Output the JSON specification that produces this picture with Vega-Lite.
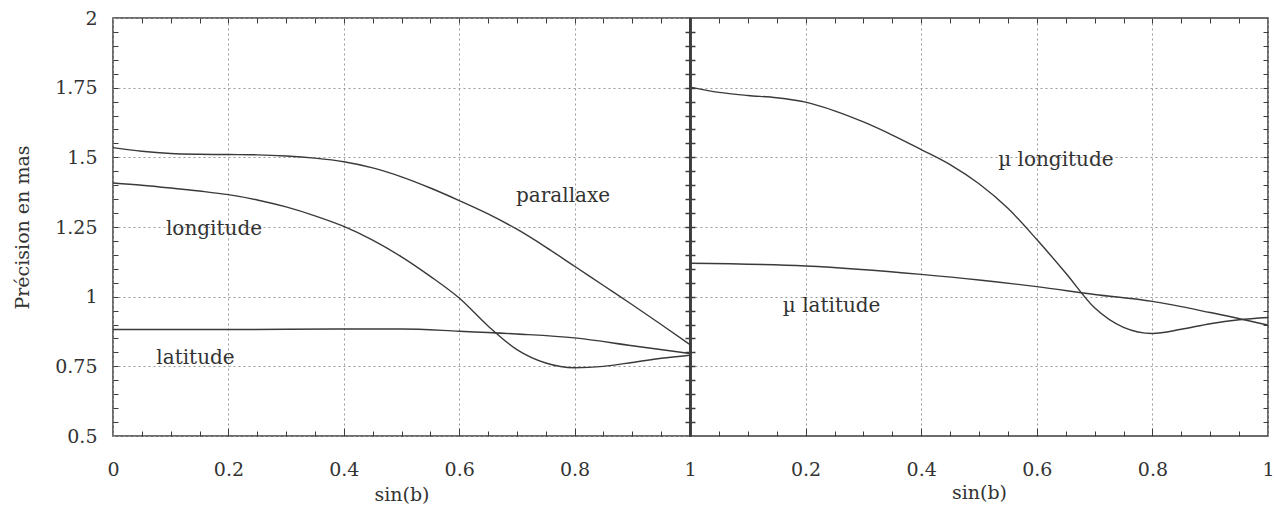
{
  "$schema": "https://vega.github.io/schema/vega-lite/v6.json",
  "background": "white",
  "padding": {"left": 12, "top": 8, "right": 4, "bottom": 2},
  "spacing": 0,
  "bounds": "flush",
  "config": {
    "font": "DejaVu Serif",
    "view": {"stroke": "#3c3c3c", "strokeWidth": 1.5},
    "axis": {
      "labelFont": "DejaVu Serif", "titleFont": "DejaVu Serif",
      "labelFontSize": 19, "titleFontSize": 19, "titleFontWeight": "normal",
      "labelColor": "#333333", "titleColor": "#333333",
      "gridColor": "#9a9a9a", "gridDash": [2, 3], "gridWidth": 1,
      "tickColor": "#3c3c3c", "domainColor": "#3c3c3c", "labelFlush": false
    }
  },
  "datasets": {
    "left": [
      {"s": "parallaxe", "x": 0, "y": 1.535}, {"s": "parallaxe", "x": 0.05, "y": 1.522}, {"s": "parallaxe", "x": 0.1, "y": 1.514},
      {"s": "parallaxe", "x": 0.15, "y": 1.511}, {"s": "parallaxe", "x": 0.2, "y": 1.51}, {"s": "parallaxe", "x": 0.25, "y": 1.509},
      {"s": "parallaxe", "x": 0.3, "y": 1.505}, {"s": "parallaxe", "x": 0.35, "y": 1.497}, {"s": "parallaxe", "x": 0.4, "y": 1.484},
      {"s": "parallaxe", "x": 0.45, "y": 1.462}, {"s": "parallaxe", "x": 0.5, "y": 1.43}, {"s": "parallaxe", "x": 0.55, "y": 1.39},
      {"s": "parallaxe", "x": 0.6, "y": 1.345}, {"s": "parallaxe", "x": 0.65, "y": 1.297}, {"s": "parallaxe", "x": 0.7, "y": 1.242},
      {"s": "parallaxe", "x": 0.75, "y": 1.178}, {"s": "parallaxe", "x": 0.8, "y": 1.109}, {"s": "parallaxe", "x": 0.85, "y": 1.04},
      {"s": "parallaxe", "x": 0.9, "y": 0.971}, {"s": "parallaxe", "x": 0.95, "y": 0.9}, {"s": "parallaxe", "x": 1, "y": 0.828},
      {"s": "longitude", "x": 0, "y": 1.408}, {"s": "longitude", "x": 0.05, "y": 1.4}, {"s": "longitude", "x": 0.1, "y": 1.39},
      {"s": "longitude", "x": 0.15, "y": 1.379}, {"s": "longitude", "x": 0.2, "y": 1.366}, {"s": "longitude", "x": 0.25, "y": 1.347},
      {"s": "longitude", "x": 0.3, "y": 1.322}, {"s": "longitude", "x": 0.35, "y": 1.29}, {"s": "longitude", "x": 0.4, "y": 1.252},
      {"s": "longitude", "x": 0.45, "y": 1.203}, {"s": "longitude", "x": 0.5, "y": 1.143}, {"s": "longitude", "x": 0.55, "y": 1.073},
      {"s": "longitude", "x": 0.6, "y": 0.995}, {"s": "longitude", "x": 0.65, "y": 0.895}, {"s": "longitude", "x": 0.7, "y": 0.81},
      {"s": "longitude", "x": 0.75, "y": 0.762}, {"s": "longitude", "x": 0.8, "y": 0.745}, {"s": "longitude", "x": 0.85, "y": 0.75},
      {"s": "longitude", "x": 0.9, "y": 0.764}, {"s": "longitude", "x": 0.95, "y": 0.779}, {"s": "longitude", "x": 1, "y": 0.79},
      {"s": "latitude", "x": 0, "y": 0.882}, {"s": "latitude", "x": 0.2, "y": 0.882}, {"s": "latitude", "x": 0.4, "y": 0.884},
      {"s": "latitude", "x": 0.5, "y": 0.884}, {"s": "latitude", "x": 0.6, "y": 0.876}, {"s": "latitude", "x": 0.7, "y": 0.866},
      {"s": "latitude", "x": 0.8, "y": 0.852}, {"s": "latitude", "x": 0.9, "y": 0.824}, {"s": "latitude", "x": 1, "y": 0.796}
    ],
    "right": [
      {"s": "mu longitude", "x": 0, "y": 1.752}, {"s": "mu longitude", "x": 0.05, "y": 1.733}, {"s": "mu longitude", "x": 0.1, "y": 1.722},
      {"s": "mu longitude", "x": 0.15, "y": 1.714}, {"s": "mu longitude", "x": 0.2, "y": 1.698}, {"s": "mu longitude", "x": 0.25, "y": 1.667},
      {"s": "mu longitude", "x": 0.3, "y": 1.627}, {"s": "mu longitude", "x": 0.35, "y": 1.58}, {"s": "mu longitude", "x": 0.4, "y": 1.528},
      {"s": "mu longitude", "x": 0.45, "y": 1.474}, {"s": "mu longitude", "x": 0.5, "y": 1.405}, {"s": "mu longitude", "x": 0.55, "y": 1.317},
      {"s": "mu longitude", "x": 0.6, "y": 1.205}, {"s": "mu longitude", "x": 0.65, "y": 1.085}, {"s": "mu longitude", "x": 0.7, "y": 0.96},
      {"s": "mu longitude", "x": 0.75, "y": 0.89}, {"s": "mu longitude", "x": 0.8, "y": 0.868}, {"s": "mu longitude", "x": 0.85, "y": 0.883},
      {"s": "mu longitude", "x": 0.9, "y": 0.903}, {"s": "mu longitude", "x": 0.95, "y": 0.917}, {"s": "mu longitude", "x": 1, "y": 0.925},
      {"s": "mu latitude", "x": 0, "y": 1.12}, {"s": "mu latitude", "x": 0.2, "y": 1.11}, {"s": "mu latitude", "x": 0.4, "y": 1.08},
      {"s": "mu latitude", "x": 0.5, "y": 1.06}, {"s": "mu latitude", "x": 0.6, "y": 1.036}, {"s": "mu latitude", "x": 0.7, "y": 1.008},
      {"s": "mu latitude", "x": 0.8, "y": 0.983}, {"s": "mu latitude", "x": 0.9, "y": 0.943}, {"s": "mu latitude", "x": 1, "y": 0.898}
    ],
    "labL": [
      {"label": "longitude", "x": 0.175, "y": 1.244},
      {"label": "latitude", "x": 0.143, "y": 0.781},
      {"label": "parallaxe", "x": 0.78, "y": 1.362}
    ],
    "labR": [
      {"label": "µ   longitude", "x": 0.633, "y": 1.49},
      {"label": "µ   latitude", "x": 0.245, "y": 0.965}
    ]
  },
  "hconcat": [
    {
      "width": 577, "height": 418,
      "resolve": {"axis": {"x": "independent", "y": "independent"}},
      "layer": [
        {
          "data": {"name": "left"},
          "mark": {"type": "line", "interpolate": "monotone", "strokeWidth": 1.4, "color": "#3a3a3a"},
          "encoding": {
            "x": {"field": "x", "type": "quantitative", "scale": {"domain": [0, 1], "nice": false},
                  "axis": {"orient": "bottom", "values": [0, 0.2, 0.4, 0.6, 0.8, 1], "labelExpr": "'' + datum.value", "grid": true, "ticks": false, "domain": false, "labelPadding": 24, "title": "sin(b)", "titlePadding": 6}},
            "y": {"field": "y", "type": "quantitative", "scale": {"domain": [0.5, 2], "nice": false, "zero": false},
                  "axis": {"orient": "left", "values": [0.5, 0.75, 1, 1.25, 1.5, 1.75, 2], "labelExpr": "'' + datum.value", "grid": true, "ticks": false, "domain": false, "labelPadding": 16, "title": "Précision en mas", "titlePadding": 22}},
            "detail": {"field": "s"}
          }
        },
        {
          "data": {"name": "left"},
          "mark": {"type": "line", "opacity": 0},
          "encoding": {
            "x": {"field": "x", "type": "quantitative", "scale": {"domain": [0, 1], "nice": false},
                  "axis": {"orient": "bottom", "values": [0.2, 0.4, 0.6, 0.8], "grid": false, "labels": false, "domain": false, "tickSize": -8, "title": null}},
            "y": {"field": "y", "type": "quantitative", "scale": {"domain": [0.5, 2], "nice": false, "zero": false},
                  "axis": {"orient": "left", "values": [0.55, 0.6, 0.65, 0.7, 0.75, 0.8, 0.85, 0.9, 0.95, 1, 1.05, 1.1, 1.15, 1.2, 1.25, 1.3, 1.35, 1.4, 1.45, 1.5, 1.55, 1.6, 1.65, 1.7, 1.75, 1.8, 1.85, 1.9, 1.95], "grid": false, "labels": false, "domain": false, "tickSize": -5, "title": null}},
            "detail": {"field": "s"}
          }
        },
        {
          "data": {"name": "left"},
          "mark": {"type": "line", "opacity": 0},
          "encoding": {
            "x": {"field": "x", "type": "quantitative", "scale": {"domain": [0, 1], "nice": false},
                  "axis": {"orient": "bottom", "values": [0.05, 0.1, 0.15, 0.25, 0.3, 0.35, 0.45, 0.5, 0.55, 0.65, 0.7, 0.75, 0.85, 0.9, 0.95], "grid": false, "labels": false, "domain": false, "tickSize": -5, "title": null}},
            "y": {"field": "y", "type": "quantitative", "scale": {"domain": [0.5, 2], "nice": false, "zero": false},
                  "axis": {"orient": "right", "values": [0.55, 0.6, 0.65, 0.7, 0.75, 0.8, 0.85, 0.9, 0.95, 1, 1.05, 1.1, 1.15, 1.2, 1.25, 1.3, 1.35, 1.4, 1.45, 1.5, 1.55, 1.6, 1.65, 1.7, 1.75, 1.8, 1.85, 1.9, 1.95], "grid": false, "labels": false, "domain": true, "domainWidth": 2.5, "tickSize": -5, "tickWidth": 1.5, "title": null}},
            "detail": {"field": "s"}
          }
        },
        {
          "data": {"name": "left"},
          "mark": {"type": "line", "opacity": 0},
          "encoding": {
            "x": {"field": "x", "type": "quantitative", "scale": {"domain": [0, 1], "nice": false},
                  "axis": {"orient": "top", "values": [0.05, 0.1, 0.15, 0.2, 0.25, 0.3, 0.35, 0.4, 0.45, 0.5, 0.55, 0.6, 0.65, 0.7, 0.75, 0.8, 0.85, 0.9, 0.95], "grid": false, "labels": false, "domain": false, "tickSize": -5, "title": null}},
            "y": {"field": "y", "type": "quantitative", "scale": {"domain": [0.5, 2], "nice": false, "zero": false}, "axis": null},
            "detail": {"field": "s"}
          }
        },
        {
          "data": {"name": "labL"},
          "mark": {"type": "text", "fontSize": 20, "color": "#333333", "font": "DejaVu Serif"},
          "encoding": {
            "x": {"field": "x", "type": "quantitative", "scale": {"domain": [0, 1], "nice": false}, "axis": null},
            "y": {"field": "y", "type": "quantitative", "scale": {"domain": [0.5, 2], "nice": false, "zero": false}, "axis": null},
            "text": {"field": "label"}
          }
        }
      ]
    },
    {
      "width": 578, "height": 418,
      "resolve": {"axis": {"x": "independent", "y": "independent"}},
      "layer": [
        {
          "data": {"name": "right"},
          "mark": {"type": "line", "interpolate": "monotone", "strokeWidth": 1.4, "color": "#3a3a3a"},
          "encoding": {
            "x": {"field": "x", "type": "quantitative", "scale": {"domain": [0, 1], "nice": false},
                  "axis": {"orient": "bottom", "values": [0.2, 0.4, 0.6, 0.8, 1], "labelExpr": "'' + datum.value", "grid": true, "ticks": false, "domain": false, "labelPadding": 24, "title": "sin(b)", "titlePadding": 4}},
            "y": {"field": "y", "type": "quantitative", "scale": {"domain": [0.5, 2], "nice": false, "zero": false},
                  "axis": {"orient": "left", "values": [0.75, 1, 1.25, 1.5, 1.75], "grid": true, "ticks": false, "labels": false, "domain": false, "title": null}},
            "detail": {"field": "s"}
          }
        },
        {
          "data": {"name": "right"},
          "mark": {"type": "line", "opacity": 0},
          "encoding": {
            "x": {"field": "x", "type": "quantitative", "scale": {"domain": [0, 1], "nice": false},
                  "axis": {"orient": "bottom", "values": [0.2, 0.4, 0.6, 0.8], "grid": false, "labels": false, "domain": false, "tickSize": -8, "title": null}},
            "y": {"field": "y", "type": "quantitative", "scale": {"domain": [0.5, 2], "nice": false, "zero": false},
                  "axis": {"orient": "left", "values": [0.55, 0.6, 0.65, 0.7, 0.75, 0.8, 0.85, 0.9, 0.95, 1, 1.05, 1.1, 1.15, 1.2, 1.25, 1.3, 1.35, 1.4, 1.45, 1.5, 1.55, 1.6, 1.65, 1.7, 1.75, 1.8, 1.85, 1.9, 1.95], "grid": false, "labels": false, "domain": true, "domainWidth": 2.5, "tickSize": -5, "tickWidth": 1.5, "title": null}},
            "detail": {"field": "s"}
          }
        },
        {
          "data": {"name": "right"},
          "mark": {"type": "line", "opacity": 0},
          "encoding": {
            "x": {"field": "x", "type": "quantitative", "scale": {"domain": [0, 1], "nice": false},
                  "axis": {"orient": "bottom", "values": [0.05, 0.1, 0.15, 0.25, 0.3, 0.35, 0.45, 0.5, 0.55, 0.65, 0.7, 0.75, 0.85, 0.9, 0.95], "grid": false, "labels": false, "domain": false, "tickSize": -5, "title": null}},
            "y": {"field": "y", "type": "quantitative", "scale": {"domain": [0.5, 2], "nice": false, "zero": false},
                  "axis": {"orient": "right", "values": [0.55, 0.6, 0.65, 0.7, 0.75, 0.8, 0.85, 0.9, 0.95, 1, 1.05, 1.1, 1.15, 1.2, 1.25, 1.3, 1.35, 1.4, 1.45, 1.5, 1.55, 1.6, 1.65, 1.7, 1.75, 1.8, 1.85, 1.9, 1.95], "grid": false, "labels": false, "domain": false, "tickSize": -5, "title": null}},
            "detail": {"field": "s"}
          }
        },
        {
          "data": {"name": "right"},
          "mark": {"type": "line", "opacity": 0},
          "encoding": {
            "x": {"field": "x", "type": "quantitative", "scale": {"domain": [0, 1], "nice": false},
                  "axis": {"orient": "top", "values": [0.05, 0.1, 0.15, 0.2, 0.25, 0.3, 0.35, 0.4, 0.45, 0.5, 0.55, 0.6, 0.65, 0.7, 0.75, 0.8, 0.85, 0.9, 0.95], "grid": false, "labels": false, "domain": false, "tickSize": -5, "title": null}},
            "y": {"field": "y", "type": "quantitative", "scale": {"domain": [0.5, 2], "nice": false, "zero": false}, "axis": null},
            "detail": {"field": "s"}
          }
        },
        {
          "data": {"name": "labR"},
          "mark": {"type": "text", "fontSize": 20, "color": "#333333", "font": "DejaVu Serif"},
          "encoding": {
            "x": {"field": "x", "type": "quantitative", "scale": {"domain": [0, 1], "nice": false}, "axis": null},
            "y": {"field": "y", "type": "quantitative", "scale": {"domain": [0.5, 2], "nice": false, "zero": false}, "axis": null},
            "text": {"field": "label"}
          }
        }
      ]
    }
  ]
}
